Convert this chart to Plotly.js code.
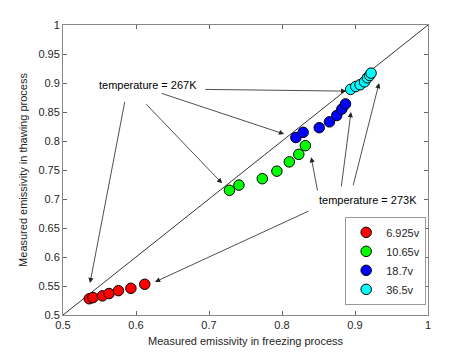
<!DOCTYPE html>
<html>
<head>
<meta charset="utf-8">
<script src="https://cdn.plot.ly/plotly-3.0.1.min.js"></script>
<style>html,body{margin:0;padding:0;background:#fff;}#chart{width:474px;height:355px;}</style>
</head>
<body>
<div id="chart"></div>
<script>
const seriesNames = ['6.925v', '10.65v', '18.7v', '36.5v'];
const seriesColors = ['#ff0000', '#00ff00', '#0000ff', '#00ffff'];
const freezeX = [
  [0.536, 0.541, 0.554, 0.563, 0.576, 0.593, 0.612],
  [0.728, 0.741, 0.773, 0.793, 0.810, 0.823, 0.832],
  [0.819, 0.829, 0.851, 0.865, 0.875, 0.882, 0.887],
  [0.894, 0.901, 0.907, 0.913, 0.917, 0.920, 0.922]
];
const thawY = [
  [0.528, 0.530, 0.533, 0.537, 0.542, 0.546, 0.553],
  [0.715, 0.724, 0.735, 0.748, 0.764, 0.777, 0.792],
  [0.806, 0.815, 0.823, 0.833, 0.844, 0.855, 0.864],
  [0.889, 0.894, 0.897, 0.902, 0.909, 0.913, 0.917]
];
const diagonal = [0.5, 1];
const labels = ['temperature = 267K', 'temperature = 273K'];
const labelPos = [[0.616, 0.897], [0.918, 0.698]];
// arrows: [tailX, tailY, headX, headY]
const arrows267 = [
  [0.585, 0.870, 0.537, 0.555],
  [0.612, 0.866, 0.718, 0.727],
  [0.633, 0.883, 0.803, 0.812],
  [0.693, 0.889, 0.888, 0.886]
];
const arrows273 = [
  [0.849, 0.712, 0.840, 0.772],
  [0.881, 0.719, 0.8945, 0.850],
  [0.897, 0.721, 0.933, 0.900],
  [0.838, 0.680, 0.626, 0.557]
];

const traces = [{
  x: diagonal, y: diagonal, mode: 'lines', showlegend: false, hoverinfo: 'skip',
  line: {color: '#000', width: 0.8}
}];
seriesNames.forEach((n, i) => {
  traces.push({
    x: freezeX[i], y: thawY[i], mode: 'markers', name: n, type: 'scatter',
    marker: {size: 10.5, color: seriesColors[i], line: {color: '#000', width: 1}}
  });
});

const font = {family: 'Liberation Sans, Arial, sans-serif', size: 11, color: '#262626'};
const annotations = [];
labels.forEach((t, i) => {
  annotations.push({x: labelPos[i][0], y: labelPos[i][1], xref: 'x', yref: 'y', text: t,
    showarrow: false, font: {family: font.family, size: 11, color: '#000'}});
});
arrows267.concat(arrows273).forEach(a => {
  annotations.push({x: a[2], y: a[3], ax: a[0], ay: a[1], xref: 'x', yref: 'y', axref: 'x', ayref: 'y',
    text: '', showarrow: true, arrowhead: 2, arrowsize: 1.3, arrowwidth: 0.8, arrowcolor: '#222', standoff: 0});
});

const axisCommon = {
  range: [0.5, 1], dtick: 0.1, ticks: 'inside', ticklen: 4, tickcolor: '#666',
  showline: true, linecolor: '#888', linewidth: 1, mirror: 'ticks', showgrid: false,
  zeroline: false, tickfont: font
};
const layout = {
  width: 474, height: 355,
  margin: {l: 63, r: 46, t: 25, b: 40},
  paper_bgcolor: '#fff', plot_bgcolor: '#fff',
  font: font,
  xaxis: Object.assign({}, axisCommon, {title: {text: 'Measured emissivity in freezing process', font: font, standoff: 7}}),
  yaxis: Object.assign({}, axisCommon, {dtick: 0.05, title: {text: 'Measured emissivity in thawing process', font: font, standoff: 8}}),
  legend: {x: 0.995, y: 0.035, xanchor: 'right', yanchor: 'bottom', bordercolor: '#999', borderwidth: 1,
    bgcolor: '#fff', font: {family: font.family, size: 11, color: '#262626'}, tracegroupgap: 0, itemwidth: 30},
  annotations: annotations
};
Plotly.newPlot('chart', traces, layout, {displayModeBar: false, staticPlot: true});
</script>
</body>
</html>
